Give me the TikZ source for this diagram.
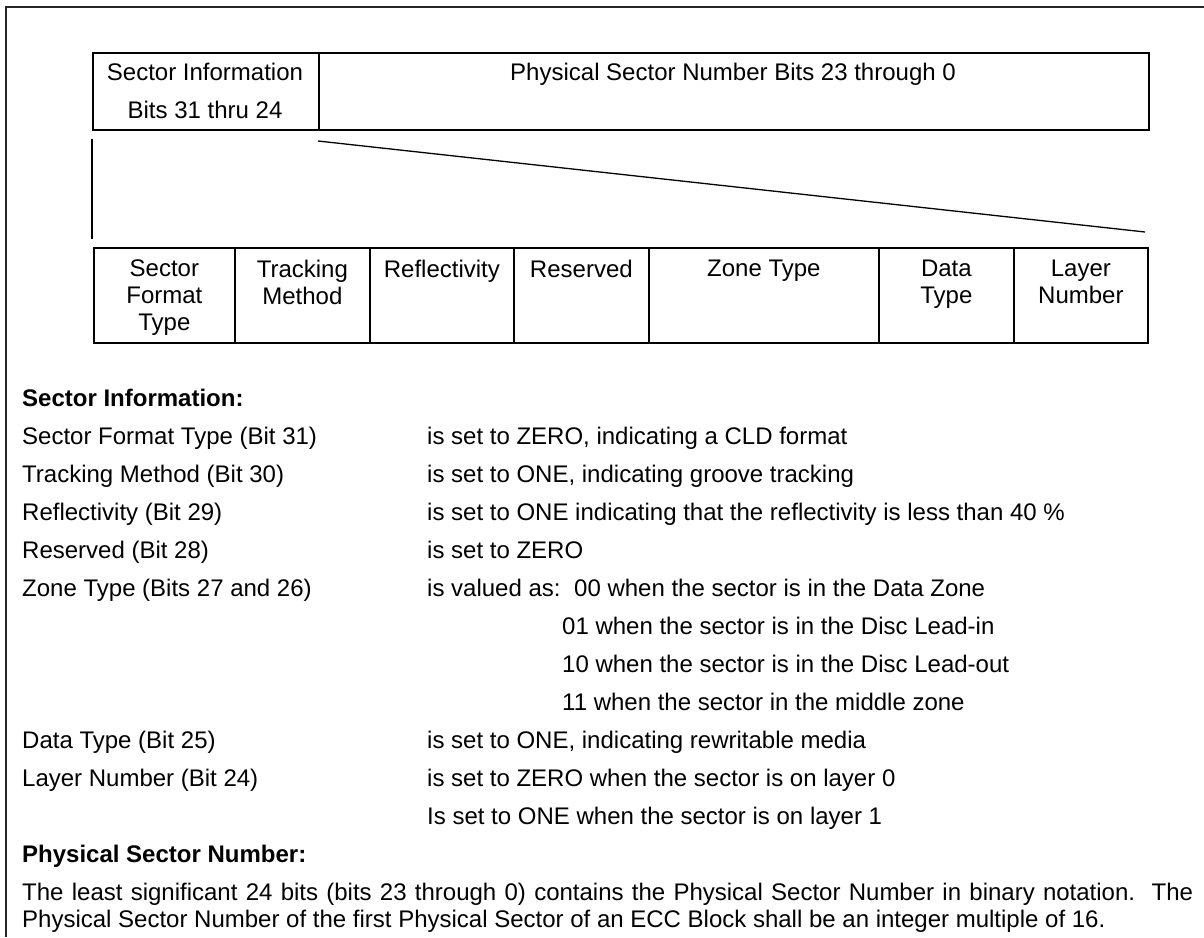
\documentclass[tikz,border=0pt]{standalone}
\usepackage{fontspec}
\setmainfont{Liberation Sans}
\begin{document}
\begin{tikzpicture}[x=1pt,y=-1pt,
  box/.style={draw=black,line width=1.7pt,inner sep=0pt},
  frameline/.style={draw=black!85,line width=1.5pt},
  thin/.style={draw=black,line width=1.3pt},
  txt/.style={font=\fontsize{24}{27}\selectfont,inner sep=0pt},
  ctext/.style={txt,align=center,anchor=north},
  lbl/.style={txt,anchor=base west},
  hd/.style={inner sep=0pt,anchor=base west,font=\fontsize{24}{27}\selectfont\bfseries},
]
\useasboundingbox (0,0) rectangle (1204,937);

% outer frame (cropped on right and bottom)
\coordinate (frTR) at (1204,7);
\coordinate (frTL) at (6,7);
\coordinate (frBL) at (6,937);
\draw[frameline] (frTR) -- (frTL) -- (frBL);

% top register box
\node[box,anchor=north west,minimum width=226pt,minimum height=77pt] (sinfo) at (92,52) {};
\node[box,anchor=north west,minimum width=830pt,minimum height=77pt] (psn) at (318,52) {};
\node[txt,anchor=base] (sinfoA) at (205,80.6) {Sector Information};
\node[txt,anchor=base] (sinfoB) at (205,118.6) {Bits 31 thru 24};
\node[txt,anchor=base] (psnA) at (733,80.6) {Physical Sector Number Bits 23 through 0};

% bottom expanded row
\node[box,anchor=north west,minimum width=141pt,minimum height=95pt] (c1) at (93,247) {};
\node[box,anchor=north west,minimum width=135pt,minimum height=95pt] (c2) at (234,247) {};
\node[box,anchor=north west,minimum width=144pt,minimum height=95pt] (c3) at (369,247) {};
\node[box,anchor=north west,minimum width=135pt,minimum height=95pt] (c4) at (513,247) {};
\node[box,anchor=north west,minimum width=230pt,minimum height=95pt] (c5) at (648,247) {};
\node[box,anchor=north west,minimum width=135pt,minimum height=95pt] (c6) at (878,247) {};
\node[box,anchor=north west,minimum width=134pt,minimum height=95pt] (c7) at (1013,247) {};

\node[ctext] (t1) at ([yshift=-12.5pt]c1.north) {Sector\\Format\\Type};
\node[ctext] (t2) at ([yshift=-12.5pt]c2.north) {Tracking\\Method};
\node[ctext] (t3) at ([yshift=-12.5pt]c3.north) {Reflectivity};
\node[ctext] (t4) at ([yshift=-12.5pt]c4.north) {Reserved};
\node[ctext] (t5) at ([yshift=-12.5pt]c5.north) {Zone Type};
\node[ctext] (t6) at ([yshift=-12.5pt]c6.north) {Data\\Type};
\node[ctext] (t7) at ([yshift=-12.5pt]c7.north) {Layer\\Number};

% expansion lines
\coordinate (vA) at (92,139);
\coordinate (vB) at (92,239);
\draw[thin] (vA) -- (vB);
\coordinate (dA) at (318,141);
\coordinate (dB) at (1145,232);
\draw[thin] (dA) -- (dB);

% description text
\node[hd] (h1) at (22,406.6) {Sector Information:};

\node[lbl] (a1) at (22,444.6) {Sector Format Type (Bit 31)};
\node[lbl] (b1) at (427,444.6) {is set to ZERO, indicating a CLD format};
\node[lbl] (a2) at (22,482.6) {Tracking Method (Bit 30)};
\node[lbl] (b2) at (427,482.6) {is set to ONE, indicating groove tracking};
\node[lbl] (a3) at (22,520.6) {Reflectivity (Bit 29)};
\node[lbl] (b3) at (427,520.6) {is set to ONE indicating that the reflectivity is less than 40 \%};
\node[lbl] (a4) at (22,558.6) {Reserved (Bit 28)};
\node[lbl] (b4) at (427,558.6) {is set to ZERO};
\node[lbl] (a5) at (22,596.6) {Zone Type (Bits 27 and 26)};
\node[lbl] (b5) at (427,596.6) {is valued as:};
\node[lbl] (z0) at (574,596.6) {00 when the sector is in the Data Zone};
\node[lbl] (z1) at (562,634.6) {01 when the sector is in the Disc Lead-in};
\node[lbl] (z2) at (562,672.6) {10 when the sector is in the Disc Lead-out};
\node[lbl] (z3) at (562,710.6) {11 when the sector in the middle zone};
\node[lbl] (a6) at (22,748.6) {Data Type (Bit 25)};
\node[lbl] (b6) at (427,748.6) {is set to ONE, indicating rewritable media};
\node[lbl] (a7) at (22,786.6) {Layer Number (Bit 24)};
\node[lbl] (b7) at (427,786.6) {is set to ZERO when the sector is on layer 0};
\node[lbl] (b8) at (427,824.6) {Is set to ONE when the sector is on layer 1};

\node[hd] (h2) at (22,862.6) {Physical Sector Number:};
\node[lbl] (p1) at (22,900.6) {\makebox[1171pt][s]{The least significant 24 bits (bits 23 through 0) contains the Physical Sector Number in binary notation.\ \ The}};
\node[lbl] (p2) at (22,927.6) {Physical Sector Number of the first Physical Sector of an ECC Block shall be an integer multiple of 16.};
\end{tikzpicture}
\end{document}
